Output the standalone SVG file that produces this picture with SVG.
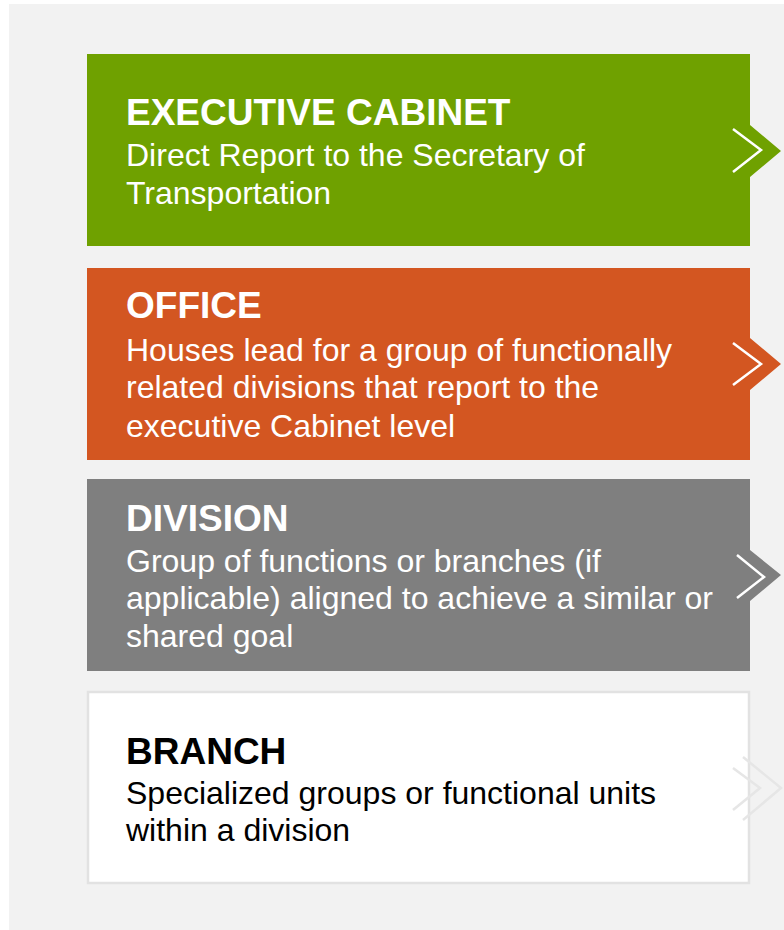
<svg xmlns="http://www.w3.org/2000/svg" width="784" height="930" viewBox="0 0 784 930">
<style>
.t{font-family:"Liberation Sans",Arial,sans-serif;font-weight:bold;font-size:37px;fill:#fff}
.b{font-family:"Liberation Sans",Arial,sans-serif;font-size:32px;fill:#fff}
.dk{fill:#000}
.chev{fill:none;stroke:#fff;stroke-width:2.5}
.lchev{fill:none;stroke:#E6E6E6;stroke-width:2.5}
</style>
<rect x="9" y="4" width="775" height="926" fill="#F2F2F2"/>
<g id="executive-cabinet">
<path d="M87 54H750V125L781 151L750 177V246H87Z" fill="#6FA100"/>
<polyline class="chev" points="733,129 761,150 733,172"/>
<text class="t" x="126" y="125">EXECUTIVE CABINET</text>
<text class="b" x="126" y="166">Direct Report to the Secretary of</text>
<text class="b" x="126" y="204">Transportation</text>
</g>
<g id="office">
<path d="M87 268H750V338L781 364L750 390V460H87Z" fill="#D35621"/>
<polyline class="chev" points="733,343 761,364 733,385"/>
<text class="t" x="126" y="318">OFFICE</text>
<text class="b" x="126" y="361">Houses lead for a group of functionally</text>
<text class="b" x="126" y="398">related divisions that report to the</text>
<text class="b" x="126" y="437">executive Cabinet level</text>
</g>
<g id="division">
<path d="M87 479H750V550L781 575L750 601V671H87Z" fill="#7F7F7F"/>
<polyline class="chev" points="737,555 764,577 737,598"/>
<text class="t" x="126" y="531">DIVISION</text>
<text class="b" x="126" y="572">Group of functions or branches (if</text>
<text class="b" x="126" y="609">applicable) aligned to achieve a similar or</text>
<text class="b" x="126" y="647">shared goal</text>
</g>
<g id="branch">
<rect x="88" y="692" width="661" height="191" fill="#FFFFFF" stroke="#E2E2E2" stroke-width="2.5"/>
<polyline class="lchev" points="743,757 781,788 743,820"/>
<polyline class="lchev" points="733,768 760,788 733,810"/>
<text class="t dk" x="126" y="764">BRANCH</text>
<text class="b dk" x="126" y="804">Specialized groups or functional units</text>
<text class="b dk" x="126" y="841">within a division</text>
</g>
<g id="connectors"/>
</svg>
